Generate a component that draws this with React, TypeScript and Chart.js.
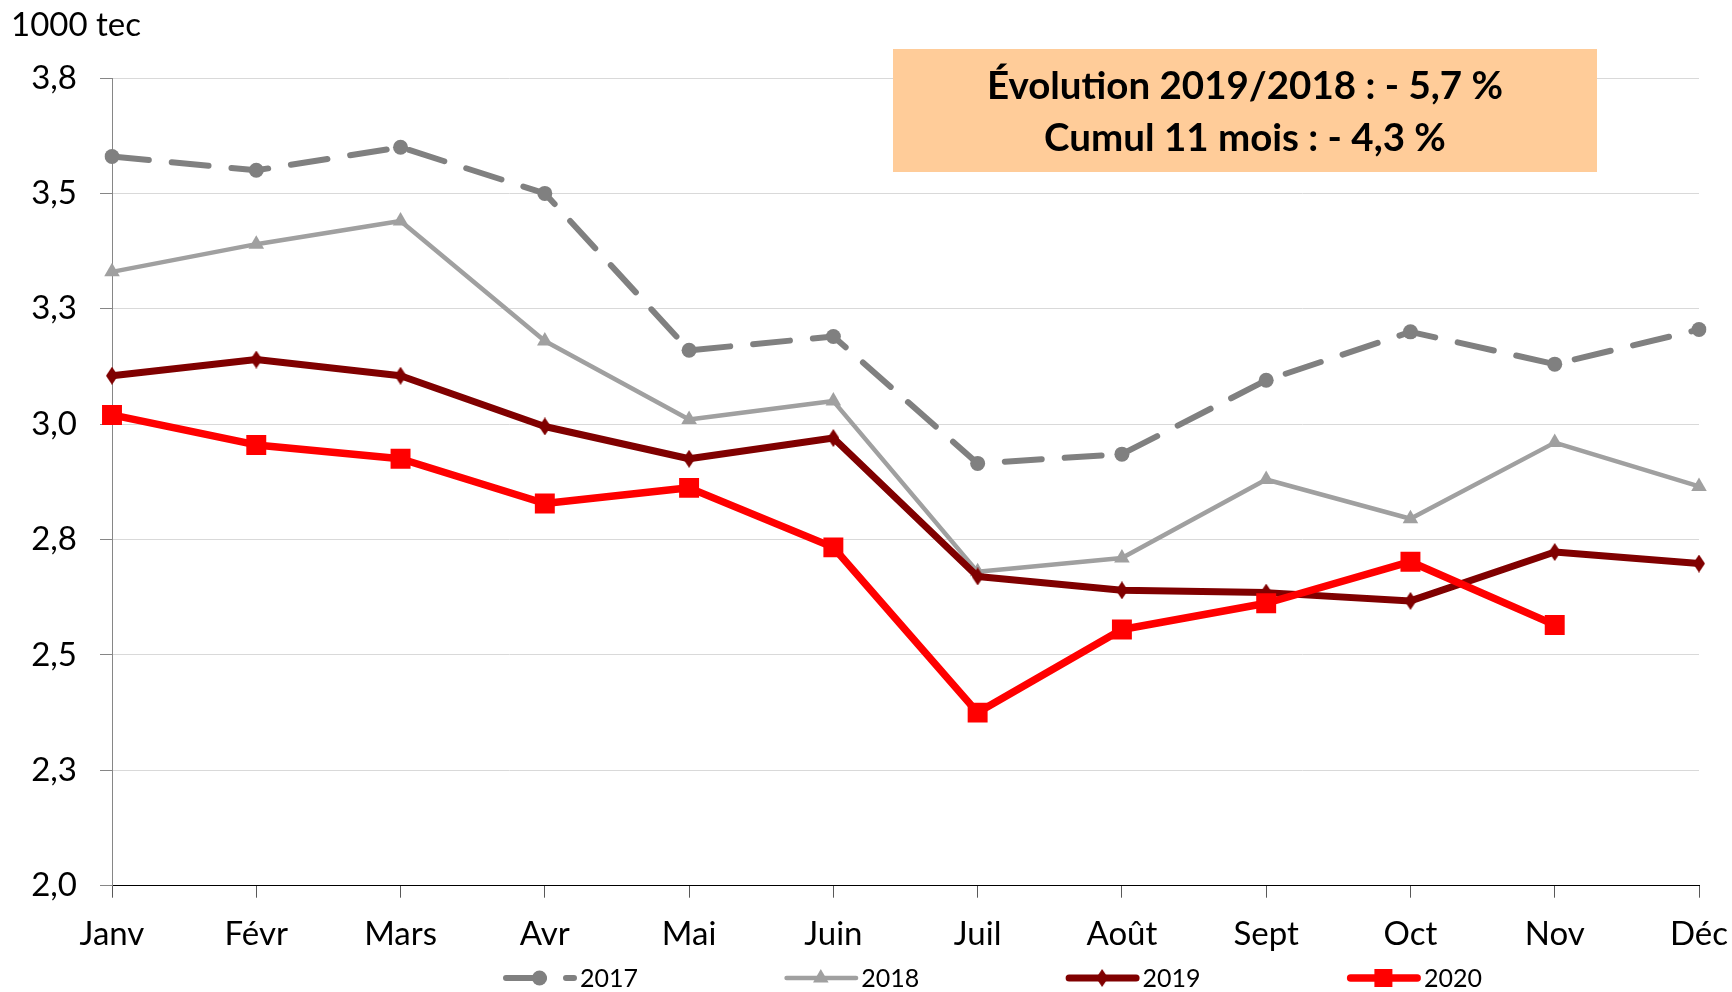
import React, { useEffect, useRef } from 'react';
import { Chart, registerables } from 'chart.js';

Chart.register(...registerables);

// ---------- data ----------
const months = ['Janv', 'Févr', 'Mars', 'Avr', 'Mai', 'Juin', 'Juil', 'Août', 'Sept', 'Oct', 'Nov', 'Déc'];
const seriesNames = ['2017', '2018', '2019', '2020'];
const values2017 = [3.58, 3.55, 3.6, 3.5, 3.16, 3.19, 2.915, 2.935, 3.095, 3.2, 3.13, 3.205];
const values2018 = [3.33, 3.39, 3.44, 3.18, 3.01, 3.05, 2.68, 2.71, 2.88, 2.795, 2.96, 2.865];
const values2019 = [3.105, 3.14, 3.105, 2.995, 2.925, 2.97, 2.67, 2.64, 2.635, 2.617, 2.723, 2.698];
const values2020 = [3.02, 2.955, 2.925, 2.828, 2.862, 2.733, 2.375, 2.555, 2.612, 2.702, 2.565];
const yTickValues = [2.0, 2.25, 2.5, 2.75, 3.0, 3.25, 3.5, 3.75];
const yTickLabels = ['2,0', '2,3', '2,5', '2,8', '3,0', '3,3', '3,5', '3,8'];
const unitLabel = '1000 tec';
const boxLines = ['Évolution 2019/2018 : - 5,7 %', 'Cumul 11 mois : - 4,3 %'];

// ---------- styles ----------
const FONT = 'Lato';
const colors = ['#808080', '#A0A0A0', '#800000', '#FF0000'];
const widths = [6, 4.5, 7, 7.5];
const DASH = [37, 23];

function makeDiamond(color: string, w: number, h: number) {
  const c = document.createElement('canvas');
  c.width = w;
  c.height = h;
  const ctx = c.getContext('2d')!;
  ctx.fillStyle = color;
  ctx.beginPath();
  ctx.moveTo(w / 2, 0);
  ctx.lineTo(w, h / 2);
  ctx.lineTo(w / 2, h);
  ctx.lineTo(0, h / 2);
  ctx.closePath();
  ctx.fill();
  return c;
}

function drawMarker(ctx: CanvasRenderingContext2D, i: number, x: number, y: number, diamond: HTMLCanvasElement) {
  ctx.save();
  ctx.fillStyle = colors[i];
  ctx.beginPath();
  if (i === 0) {
    ctx.arc(x, y, 7.5, 0, Math.PI * 2);
    ctx.fill();
  } else if (i === 1) {
    const r = 9;
    ctx.moveTo(x, y - r);
    ctx.lineTo(x + r * 0.866, y + r * 0.5);
    ctx.lineTo(x - r * 0.866, y + r * 0.5);
    ctx.closePath();
    ctx.fill();
  } else if (i === 2) {
    ctx.drawImage(diamond, x - diamond.width / 2, y - diamond.height / 2);
  } else {
    ctx.fillRect(x - 9, y - 9, 18, 18);
  }
  ctx.restore();
}

export default function App() {
  const ref = useRef<HTMLCanvasElement>(null);

  useEffect(() => {
    let chart: Chart | null = null;
    let cancelled = false;

    const make = () => {
      if (cancelled || !ref.current) return;
      const diamond = makeDiamond(colors[2], 12, 18);

      const overlay = {
        id: 'overlay',
        afterDraw(c: any) {
          const ctx: CanvasRenderingContext2D = c.ctx;
          ctx.save();
          // unit label
          ctx.fillStyle = '#000';
          ctx.font = `33px ${FONT}`;
          ctx.textAlign = 'left';
          ctx.textBaseline = 'alphabetic';
          ctx.fillText(unitLabel, 11, 36);

          // annotation box
          ctx.fillStyle = '#FFCC99';
          ctx.fillRect(893, 49, 704, 123);
          ctx.fillStyle = '#000';
          ctx.font = `bold 38.5px ${FONT}`;
          ctx.textAlign = 'center';
          ctx.fillText(boxLines[0], 1245, 99);
          ctx.fillText(boxLines[1], 1245, 151);

          // legend
          const ly = 978;
          c.data.datasets.forEach((ds: any, i: number) => {
            const x0 = 503 + i * 281.3;
            ctx.save();
            ctx.strokeStyle = colors[i];
            ctx.lineWidth = widths[i];
            ctx.lineCap = 'round';
            if (i === 0) ctx.setLineDash([38, 22]);
            ctx.beginPath();
            ctx.moveTo(x0 + widths[i] / 2, ly);
            ctx.lineTo(x0 + 74 - widths[i] / 2, ly);
            ctx.stroke();
            ctx.restore();
            drawMarker(ctx, i, x0 + 36.5, ly, diamond);
            ctx.fillStyle = '#000';
            ctx.font = `25px ${FONT}`;
            ctx.textAlign = 'left';
            ctx.textBaseline = 'middle';
            ctx.fillText(ds.label, x0 + 77, ly + 1);
          });
          ctx.restore();
        },
      };

      chart = new Chart(ref.current, {
        type: 'line',
        data: {
          labels: months,
          datasets: [
            {
              label: seriesNames[0],
              data: values2017,
              borderColor: colors[0],
              backgroundColor: colors[0],
              borderWidth: widths[0],
              borderDash: DASH,
              borderCapStyle: 'round',
              pointStyle: 'circle',
              pointRadius: 7.5,
              pointBorderWidth: 0,
              order: 4,
            },
            {
              label: seriesNames[1],
              data: values2018,
              borderColor: colors[1],
              backgroundColor: colors[1],
              borderWidth: widths[1],
              pointStyle: 'triangle',
              pointRadius: 9,
              pointBorderWidth: 0,
              order: 3,
            },
            {
              label: seriesNames[2],
              data: values2019,
              borderColor: colors[2],
              backgroundColor: colors[2],
              borderWidth: widths[2],
              pointStyle: diamond,
              pointRadius: 9,
              pointBorderWidth: 0,
              order: 2,
            },
            {
              label: seriesNames[3],
              data: values2020,
              borderColor: colors[3],
              backgroundColor: colors[3],
              borderWidth: widths[3],
              pointStyle: 'rect',
              pointRadius: 14.1,
              pointBorderWidth: 0,
              order: 1,
            },
          ] as any,
        },
        options: {
          responsive: false,
          devicePixelRatio: 1,
          animation: false,
          events: [],
          layout: { padding: { top: 78, right: 33, bottom: 0, left: 0 } },
          elements: { line: { tension: 0, borderJoinStyle: 'round' } },
          plugins: {
            legend: { display: false },
            tooltip: { enabled: false },
            title: { display: false },
          },
          scales: {
            x: {
              offset: false,
              grid: {
                drawOnChartArea: false,
                drawTicks: true,
                tickLength: 12,
                tickColor: '#595959',
                tickWidth: 1,
              },
              border: { color: '#000', width: 1 },
              ticks: {
                font: { family: FONT, size: 33 },
                color: '#000',
                padding: 17,
                maxRotation: 0,
                autoSkip: false,
              },
              afterFit(scale: any) {
                scale.height = 992 - 885.7;
                scale.paddingLeft = 0;
                scale.paddingRight = 0;
              },
            },
            y: {
              min: 2,
              max: 3.75,
              afterBuildTicks(scale: any) {
                scale.ticks = yTickValues.map((v) => ({ value: v }));
              },
              grid: {
                color: (ctx: any) => (ctx.tick && Math.abs(ctx.tick.value - 2) < 1e-6 ? 'rgba(0,0,0,0)' : '#D9D9D9'),
                lineWidth: 1,
                drawTicks: true,
                tickLength: 12,
                tickColor: '#868686',
              },
              border: { color: '#868686', width: 1 },
              ticks: {
                font: { family: FONT, size: 33 },
                color: '#000',
                padding: 23,
                callback: (value: any) => {
                  const i = yTickValues.findIndex((v) => Math.abs(v - Number(value)) < 1e-6);
                  return i >= 0 ? yTickLabels[i] : '';
                },
              },
              afterFit(scale: any) {
                scale.width = 112;
              },
            },
          },
        },
        plugins: [overlay],
      } as any);
    };

    const fonts: any = (document as any).fonts;
    if (fonts && fonts.load) {
      Promise.all([fonts.load(`33px ${FONT}`), fonts.load(`bold 38px ${FONT}`)]).then(make, make);
    } else {
      make();
    }

    return () => {
      cancelled = true;
      if (chart) chart.destroy();
    };
  }, []);

  return (
    <div style={{ position: 'absolute', left: 0, top: 0, width: 1732, height: 992, background: '#fff' }}>
      <canvas ref={ref} width={1732} height={992} style={{ display: 'block', width: 1732, height: 992 }} />
    </div>
  );
}
